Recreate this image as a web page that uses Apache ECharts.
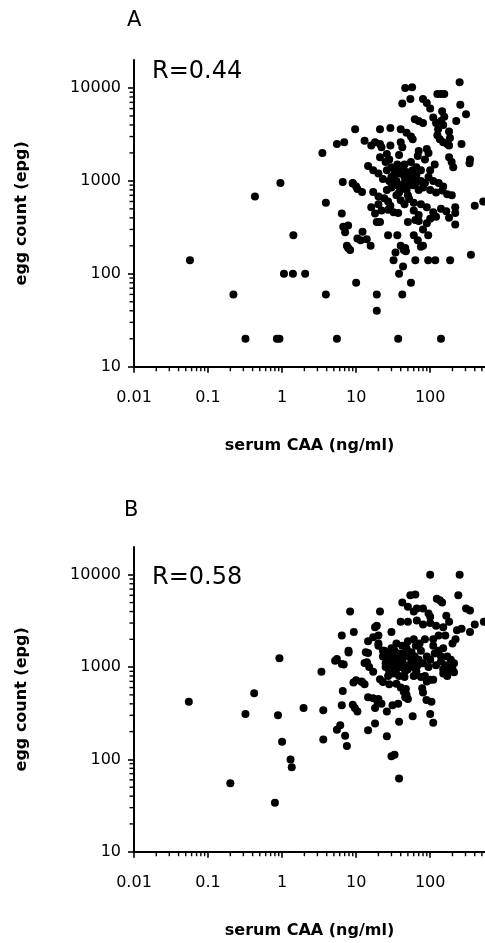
<!DOCTYPE html>
<html><head><meta charset="utf-8">
<script src="https://cdn.jsdelivr.net/npm/echarts@6/dist/echarts.min.js"></script>
<style>html,body{margin:0;padding:0;background:#fff}#c{width:485px;height:943px}</style>
</head><body><div id="c"></div>
<script>
// ---- data (serum CAA ng/ml, egg count epg) ----
const xTickLabels = ['0.01', '0.1', '1', '10', '100'];
const yTickLabels = ['10', '100', '1000', '10000'];
const panelLabels = ['A', 'B'];
const rLabels = ['R=0.44', 'R=0.58'];
const xName = 'serum CAA (ng/ml)';
const yName = 'egg count (epg)';

const dataA = [
[0.057,140],[0.22,60],[0.32,20],[0.85,20],[0.92,20],[0.43,680],[0.95,950],[1.06,100],[1.4,100],[2.05,100],[1.42,260],[3.9,580],[3.9,60],[5.5,20],[37,20],[140,20],[19,60],[19,40],[42,60],[38,100],[55,80],[10,80],
[43,120],[32,140],[63,140],[94,140],[117,140],[186,140],[355,160],[400,540],[520,600],[80,200],[46,190],[47,175],[34,170],[27,260],[36,260],
[3.5,2000],[5.5,2500],[6.9,2600],[9.7,3600],[6.6,970],[6.4,445],[6.7,320],[7.8,330],[7.1,280],[7.5,200],[7.8,190],[8.3,180],[9,940],[10.4,820],
[10.4,240],[12.2,283],[13.9,235],[15.7,200],[11.5,230],
[250,11500],[46,10000],[57,10200],[42,6800],[54,7600],[80,7600],[90,6900],[100,6000],[125,8600],[140,8600],[155,8600],[255,6600],[305,5200],[225,4400],
[145,5600],[155,4900],[140,4400],[150,4000],[110,4800],[120,4200],[128,3600],[125,3100],[135,2800],[150,2600],[170,2500],
[180,3400],[185,2900],[180,2400],[265,2500],[70,4400],[80,4200],[62,4600],[40,3600],[48,3300],[55,3000],[58,2800],[29,3700],[21,3600],
[13,2700],[16,2400],[18,2600],[21,2500],[22,2300],[29,2400],[40,2600],[42,2300],[38,1900],[70,2100],[68,1850],[90,2200],[95,2000],[180,1800],[195,1600],[205,1400],[345,1700],[340,1550],[21,1800],[26,1950],
[14.5,1450],[17,1300],[20,1200],[23,1050],[30,1400],[34,1300],[38,1200],[42,1300],[48,1250],[45,1100],[55,1200],[60,1050],[65,1150],[75,1000],[85,950],[95,1100],[110,1000],[130,950],[150,870],
[9,950],[10,870],[12,760],[17,760],[20,680],[24,650],[27,600],[29,540],[35,700],[40,620],[45,560],[52,640],[60,580],[75,560],[90,520],[110,460],[140,500],[165,470],[180,400],
[16,520],[18,445],[20,560],[22,480],[27,490],[32,460],[37,450],[19,360],[21,360],[50,360],[63,380],[70,370],[90,350],[100,390],[120,410],[146,790],[170,720],[196,700],[218,520],[218,450],[218,340],
[60,480],[70,430],[80,300],[94,260],[60,260],[68,230],[75,195],[40,200],[44,180],
[25,1600],[28,1700],[32,1000],[36,900],[42,850],[50,950],[58,900],[70,800],[80,850],[100,800],[120,750],[30,850],[26,800],[45,1500],[55,1600],[65,1400],[100,1300],[115,1500],[85,1700],[75,1300],
[30,1100],[35,1000],[40,900],[45,950],[52,1050],[58,1300],[33,1200],[28,1000],[38,750],[48,800],[62,900],[70,1000],[36,1500],[26,1300],[50,700]
];

const dataB = [
[0.055,420],[0.42,520],[0.32,310],[0.92,1250],[0.88,300],[1.0,155],[1.3,100],[1.35,82],[0.2,55],[0.8,34],[1.95,360],[3.4,890],[3.6,340],[3.6,164],[5.5,210],[6.1,235],[6.4,385],[6.6,550],[7.1,180],[7.5,140],[5.2,1170],[6.8,1070],[7.9,1440],[9,390],[10.4,330],[9.6,360],[9.2,680],[11.8,700],[14.5,207],[18,245],[14.5,470],[17,460],[20,450],[13,1110],[15,1000],[17,890],[14.5,1420],[26,178],[30,108],[33,112],[38,62],[38,256],[58,294],[31,385],[37,400],[19.5,415],[22,400],[26,330],[18,360],[44,540],[48,500],[50,450],[46,470],[78,590],[80,530],[89,440],[104,420],[100,310],[110,250],[100,730],[110,730],[140,1150],[160,1050],[180,900],[150,950],[190,1000],[21,740],[23,690],
[100,10000],[250,10000],[54,6000],[63,6100],[240,6000],[123,5500],[135,5300],[145,5000],[305,4300],[345,4100],[530,3100],[400,2900],[345,2400],[8.3,4000],[21,4000],[42,5000],[50,4500],[66,4300],[60,4000],[40,3100],[50,3100],[66,3200],[80,2900],[100,3000],[120,2800],[150,2700],[80,4300],[95,3800],[100,3500],[165,3600],[180,3100],[230,2500],[265,2600],[6.4,2200],[9.3,2400],[18,2700],[30,2400],[19,2800],[7.9,1500],[5.5,1220],[6.4,1080],[14.5,1900],[13.5,1450],[20,2200],[14,1130],[17,2100],[20,1800],[24,1500],[26,1200],
[20,1700],[23,1500],[27,1400],[30,1300],[33,1200],[36,1100],[40,1000],[45,1050],[50,950],[55,1100],[60,1000],[65,900],[70,1200],[80,1100],[90,1300],[100,1200],[115,1400],[130,1500],[150,1600],[170,1300],[190,1200],[210,1100],[35,1800],[42,1700],[50,1900],[60,2000],[72,1800],[85,2000],[110,2000],[130,2200],[28,900],[32,850],[38,800],[45,780],[60,800],[75,780],[25,1000],[30,1000],[35,950],[40,1200],[50,1300],[28,650],[35,660],[40,600],[47,580],[27,800],[23,1300],[95,1000],[120,1050],[140,1300],[200,1800],[220,2000],[160,2200],[110,1700],[12,690],[10,720],[13,650],[85,800],[90,700],[150,850],[170,800],[200,950],[210,880],
[25,1100],[28,1200],[31,1050],[34,1000],[37,1250],[42,1150],[46,900],[52,1000],[58,1150],[62,1300],[68,1050],[33,1500],[38,1400],[44,1400],[30,1600],[36,1300],[48,1600],[56,1450],[75,1500],[64,1700]
];

// ---- axis extents ----
const xMin = 0.01, xMax = 550, yMin = 10, yMax = 20000;

// minor tick values (2..9 x 10^k)
const xMinor = [], yMinor = [];
for (let e = -2; e <= 2; e++) for (let m = 2; m <= 9; m++) { const v = +(m * Math.pow(10, e)).toPrecision(3); if (v < xMax) xMinor.push(v); }
for (let e = 1; e <= 4; e++) for (let m = 2; m <= 9; m++) { const v = m * Math.pow(10, e); if (v < yMax) yMinor.push(v); }

const FONT = 'DejaVu Sans';
const chart = echarts.init(document.getElementById('c'), null, { renderer: 'canvas' });

const isPow10 = v => Math.abs(Math.log10(v) - Math.round(Math.log10(v))) < 1e-6;
const fmt = v => {
  if (!isPow10(v)) return '';
  const s = String(+v.toPrecision(3));
  return (xTickLabels.includes(s) || yTickLabels.includes(s)) ? s : '';
};

function xAxisCfg(gi) {
  return {
    gridIndex: gi, type: 'log', logBase: 10, min: xMin, max: xMax,
    name: xName, nameLocation: 'middle', nameGap: 71,
    nameTextStyle: { fontFamily: FONT, fontSize: 16, fontWeight: 'bold', color: '#000' },
    axisLine: { lineStyle: { color: '#000', width: 2 } },
    axisTick: { show: true, inside: false, length: 6, lineStyle: { color: '#000', width: 1.6 } },
    axisLabel: { formatter: fmt, margin: 23, fontFamily: FONT, fontSize: 16, color: '#000', showMaxLabel: false },
    splitLine: { show: false }
  };
}
function yAxisCfg(gi) {
  return {
    gridIndex: gi, type: 'log', logBase: 10, min: yMin, max: yMax,
    name: yName, nameLocation: 'middle', nameGap: 104,
    nameTextStyle: { fontFamily: FONT, fontSize: 16, fontWeight: 'bold', color: '#000' },
    axisLine: { lineStyle: { color: '#000', width: 2 } },
    axisTick: { show: true, inside: false, length: 6, lineStyle: { color: '#000', width: 1.6 } },
    axisLabel: { formatter: fmt, margin: 13, fontFamily: FONT, fontSize: 16, color: '#000', showMaxLabel: false },
    splitLine: { show: false }
  };
}

function minorSeries(gi, vals, isX) {
  return {
    type: 'custom', xAxisIndex: gi, yAxisIndex: gi, silent: true, clip: false, z: 10,
    data: vals.map(v => isX ? [v, yMin] : [xMin, v]),
    renderItem: (params, api) => {
      const p = api.coord([api.value(0), api.value(1)]);
      const shape = isX ? { x1: p[0], y1: p[1], x2: p[0], y2: p[1] + 4.5 }
                        : { x1: p[0], y1: p[1], x2: p[0] - 4.5, y2: p[1] };
      return { type: 'line', shape, style: { stroke: '#000', lineWidth: 1.4 } };
    }
  };
}

function scatter(gi, data) {
  return {
    type: 'scatter', xAxisIndex: gi, yAxisIndex: gi, data,
    symbol: 'circle', symbolSize: 8, itemStyle: { color: '#000', opacity: 1 }, z: 3
  };
}

chart.setOption({
  animation: false,
  backgroundColor: '#fff',
  grid: [
    { left: 134, top: 60, width: 351, height: 306.7 },
    { left: 134, top: 547, width: 351, height: 304.7 }
  ],
  xAxis: [xAxisCfg(0), xAxisCfg(1)],
  yAxis: [yAxisCfg(0), yAxisCfg(1)],
  graphic: [
    { type: 'text', left: 127, top: 10, style: { text: panelLabels[0], font: '21px "' + FONT + '"', fill: '#000' } },
    { type: 'text', left: 124, top: 500, style: { text: panelLabels[1], font: '21px "' + FONT + '"', fill: '#000' } },
    { type: 'text', left: 152, top: 60, style: { text: rLabels[0], font: '24px "' + FONT + '"', fill: '#000' } },
    { type: 'text', left: 152, top: 566, style: { text: rLabels[1], font: '24px "' + FONT + '"', fill: '#000' } }
  ],
  series: [
    scatter(0, dataA), scatter(1, dataB),
    minorSeries(0, xMinor, true), minorSeries(0, yMinor, false),
    minorSeries(1, xMinor, true), minorSeries(1, yMinor, false)
  ]
});
</script>
</body></html>
